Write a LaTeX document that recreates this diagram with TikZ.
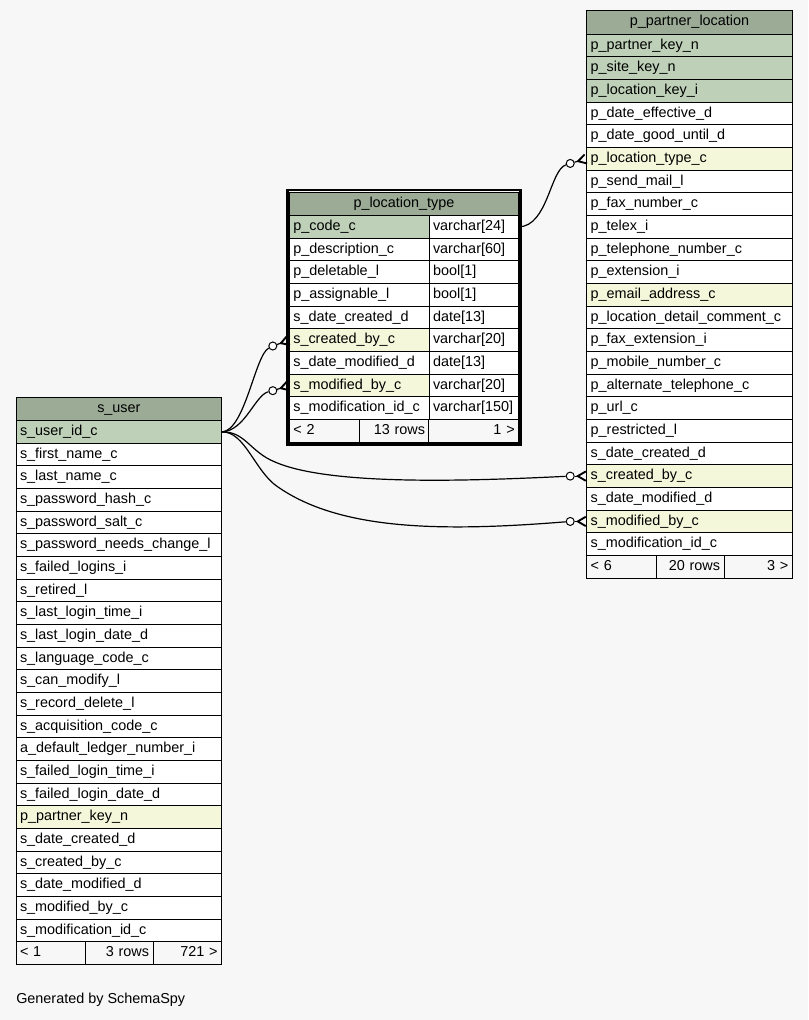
\documentclass[tikz,border=0pt]{standalone}
\usepackage{fontspec}
\setmainfont{Liberation Sans}
\usetikzlibrary{arrows.meta, positioning, fit}

\definecolor{bgfill}{HTML}{F7F7F7}
\definecolor{headfill}{HTML}{9BAB96}
\definecolor{keyfill}{HTML}{BED1B8}
\definecolor{linkfill}{HTML}{F4F7DA}
\colorlet{plainfill}{white}

\tikzset{
  cell/.style={draw, line width=0.75pt, outer sep=0pt, inner xsep=3pt, inner ysep=0pt, minimum height=17pt, text height=7.8pt, text depth=2.4pt, text width=#1, align=left},
  head/.style={cell=#1, fill=headfill, align=center, minimum height=17.7pt},
  foot/.style={cell=#1, fill=bgfill},
  ring/.style={circle, draw, fill=white, line width=0.75pt, inner sep=0pt, minimum size=6pt},
  link/.style={line width=0.9pt},
  fork/.style={line width=0.9pt, -{Straight Barb[reversed, length=6pt, width=7pt, line width=1.4pt]}},
  frame/.style={draw, line width=1.9pt, inner sep=1.5pt}
}

\begin{document}
\begin{tikzpicture}[x=0.75pt, y=-0.75pt, font=\fontsize{10.8pt}{13pt}\selectfont]
\fill[bgfill] (0,0) rectangle (808,1020);
\useasboundingbox (0,0) rectangle (808,1020);

% s_user
\node[head=148.3pt, anchor=north west] (user-0) at (16,397) {s\_user};
\foreach \fld/\kind [count=\i] in {s\_user\_id\_c/keyfill, s\_first\_name\_c/plainfill, s\_last\_name\_c/plainfill, s\_password\_hash\_c/plainfill, s\_password\_salt\_c/plainfill, s\_password\_needs\_change\_l/plainfill, s\_failed\_logins\_i/plainfill, s\_retired\_l/plainfill, s\_last\_login\_time\_i/plainfill, s\_last\_login\_date\_d/plainfill, s\_language\_code\_c/plainfill, s\_can\_modify\_l/plainfill, s\_record\_delete\_l/plainfill, s\_acquisition\_code\_c/plainfill, a\_default\_ledger\_number\_i/plainfill, s\_failed\_login\_time\_i/plainfill, s\_failed\_login\_date\_d/plainfill, p\_partner\_key\_n/linkfill, s\_date\_created\_d/plainfill, s\_created\_by\_c/plainfill, s\_date\_modified\_d/plainfill, s\_modified\_by\_c/plainfill, s\_modification\_id\_c/plainfill}{
  \pgfmathtruncatemacro\j{\i-1}
  \node[cell=148.3pt, fill=\kind, below=0pt of user-\j] (user-\i) {\fld};
}
\node[foot=45.75pt, anchor=north west] (user-foot-a) at (user-23.south west) {< 1};
\node[foot=45pt, align=right, right=0pt of user-foot-a] (user-foot-b) {3 rows};
\node[foot=45.5pt, align=right, right=0pt of user-foot-b] (user-foot-c) {721 >};

% p_partner_location
\node[head=148.2pt, anchor=north west] (partloc-0) at (586.7,10.5) {p\_partner\_location};
\foreach \fld/\kind [count=\i] in {p\_partner\_key\_n/keyfill, p\_site\_key\_n/keyfill, p\_location\_key\_i/keyfill, p\_date\_effective\_d/plainfill, p\_date\_good\_until\_d/plainfill, p\_location\_type\_c/linkfill, p\_send\_mail\_l/plainfill, p\_fax\_number\_c/plainfill, p\_telex\_i/plainfill, p\_telephone\_number\_c/plainfill, p\_extension\_i/plainfill, p\_email\_address\_c/linkfill, p\_location\_detail\_comment\_c/plainfill, p\_fax\_extension\_i/plainfill, p\_mobile\_number\_c/plainfill, p\_alternate\_telephone\_c/plainfill, p\_url\_c/plainfill, p\_restricted\_l/plainfill, s\_date\_created\_d/plainfill, s\_created\_by\_c/linkfill, s\_date\_modified\_d/plainfill, s\_modified\_by\_c/linkfill, s\_modification\_id\_c/plainfill}{
  \pgfmathtruncatemacro\j{\i-1}
  \node[cell=148.2pt, fill=\kind, below=0pt of partloc-\j] (partloc-\i) {\fld};
}
\node[foot=46pt, anchor=north west] (partloc-foot-a) at (partloc-23.south west) {< 6};
\node[foot=45pt, align=right, right=0pt of partloc-foot-a] (partloc-foot-b) {20 rows};
\node[foot=45.2pt, align=right, right=0pt of partloc-foot-b] (partloc-foot-c) {3 >};

% p_location_type
\node[head=166pt, anchor=north west] (loctype-0) at (289.3,192) {p\_location\_type};
\foreach \fld/\kind/\typ [count=\i] in {p\_code\_c/keyfill/{varchar[24]}, p\_description\_c/plainfill/{varchar[60]}, p\_deletable\_l/plainfill/{bool[1]}, p\_assignable\_l/plainfill/{bool[1]}, s\_date\_created\_d/plainfill/{date[13]}, s\_created\_by\_c/linkfill/{varchar[20]}, s\_date\_modified\_d/plainfill/{date[13]}, s\_modified\_by\_c/linkfill/{varchar[20]}, s\_modification\_id\_c/plainfill/{varchar[150]}}{
  \pgfmathtruncatemacro\j{\i-1}
  \ifnum\i=1
    \node[cell=98.8pt, fill=\kind, anchor=north west] (loctype-\i) at (loctype-0.south west) {\fld};
  \else
    \node[cell=98.8pt, fill=\kind, below=0pt of loctype-\j] (loctype-\i) {\fld};
  \fi
  \node[cell=61.3pt, fill=white, right=0pt of loctype-\i] (loctype-\i-t) {\typ};
}
\node[foot=47pt, anchor=north west] (loctype-foot-a) at (loctype-9.south west) {< 2};
\node[foot=45.75pt, align=right, right=0pt of loctype-foot-a] (loctype-foot-b) {13 rows};
\node[foot=61.3pt, align=right, right=0pt of loctype-foot-b] (loctype-foot-c) {1 >};
\node[frame, fit=(loctype-0)(loctype-foot-c)] (loctype-frame) {};

% relationships
\node[ring, left=9pt of loctype-6.west, yshift=-4.3pt] (ring-lc) {};
\node[ring, left=9pt of loctype-8.west, yshift=-3.8pt] (ring-lm) {};
\node[ring, left=9pt of partloc-6.west, yshift=-3.5pt] (ring-pt) {};
\node[ring, left=9pt of partloc-20.west] (ring-pc) {};
\node[ring, left=9pt of partloc-22.west] (ring-pm) {};

\draw[link] (user-1.east) .. controls (245,431) and (255,355) .. (ring-lc);
\draw[link] (user-1.east) .. controls (245,431) and (255,395) .. (ring-lm);
\draw[link] (user-1.east) .. controls (245,431) and (250,452) .. (275,462) .. controls (330,486) and (470,481) .. (ring-pc);
\draw[link] (user-1.east) .. controls (245,431) and (255,472) .. (278,487) .. controls (340,530) and (440,532) .. (ring-pm);
\draw[link] (loctype-1-t.east) .. controls (548,226) and (550,170) .. (ring-pt);

\draw[fork] (ring-lc) -- (loctype-6.west);
\draw[fork] (ring-lm) -- (loctype-8.west);
\draw[fork] (ring-pt) -- (partloc-6.west);
\draw[fork] (ring-pc) -- (partloc-20.west);
\draw[fork] (ring-pm) -- (partloc-22.west);

\node[anchor=west, inner sep=0pt] (credit) at (16,1000) {Generated by SchemaSpy};
\end{tikzpicture}
\end{document}
